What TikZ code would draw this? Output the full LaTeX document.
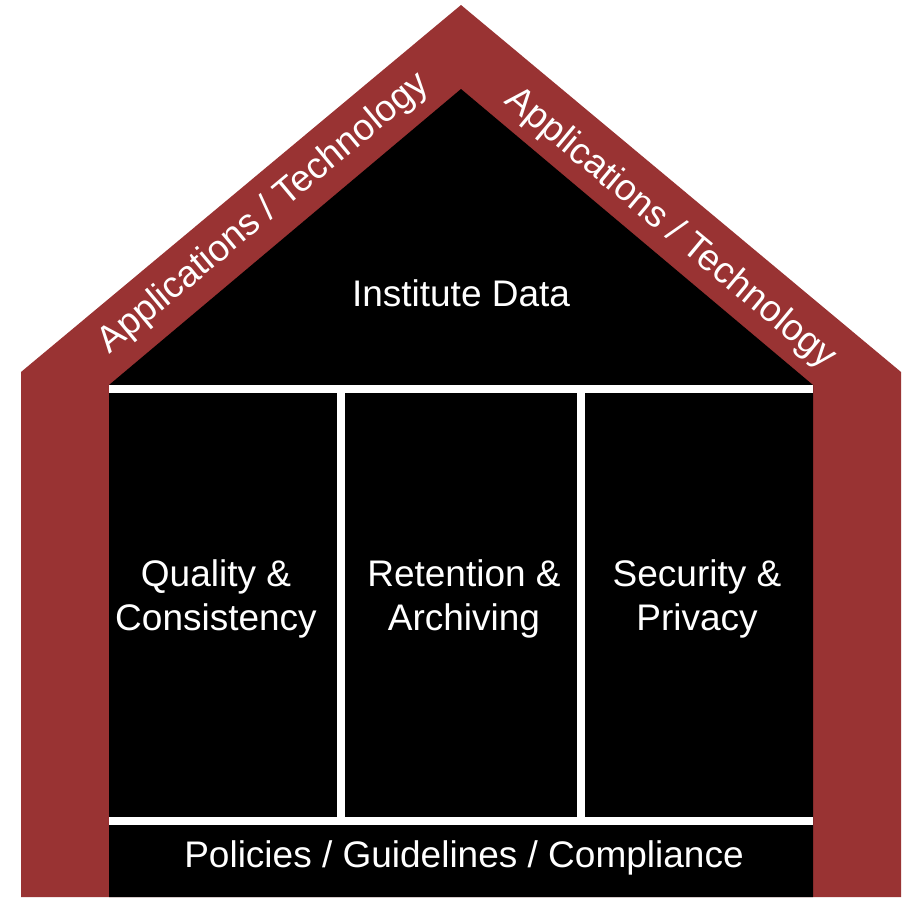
\documentclass[tikz,border=0pt]{standalone}
\usepackage{fontspec}
\setmainfont{Liberation Sans}
\definecolor{roofred}{RGB}{153,51,51}
\begin{document}
\begin{tikzpicture}[x=1pt,y=-1pt,
  lbl/.style={text=white,font=\fontsize{37}{43.3}\selectfont,inner sep=0pt,align=center},
  sep/.style={fill=white}]
\useasboundingbox (0,0) rectangle (907,897);
% red house outline
\fill[roofred] (21,897) -- (21,372) -- (461,5) -- (901,372) -- (901,897) -- cycle;
% black interior
\fill[black] (109,897) -- (109,385) -- (461,89) -- (813,385) -- (813,897) -- cycle;
% white separators
\fill[sep] (109,385) rectangle (813,393);
\fill[sep] (337,393) rectangle (345,817);
\fill[sep] (577,393) rectangle (585,817);
\fill[sep] (109,817) rectangle (813,825);
% labels
\node[lbl,anchor=base] (inst) at (461,306.7) {Institute Data};
\node[lbl] (qual) at (216,599) {Quality \&\\Consistency};
\node[lbl] (ret) at (464,599) {Retention \&\\Archiving};
\node[lbl] (sec) at (697,599) {Security \&\\Privacy};
\node[lbl,anchor=base] (pol) at (464,867) {Policies / Guidelines / Compliance};
\node[lbl,anchor=base,rotate=39.8] (appl) at (270,221) {Applications / Technology};
\node[lbl,anchor=base,rotate=-39.8] (appr) at (664,236) {Applications / Technology};
\end{tikzpicture}
\end{document}
